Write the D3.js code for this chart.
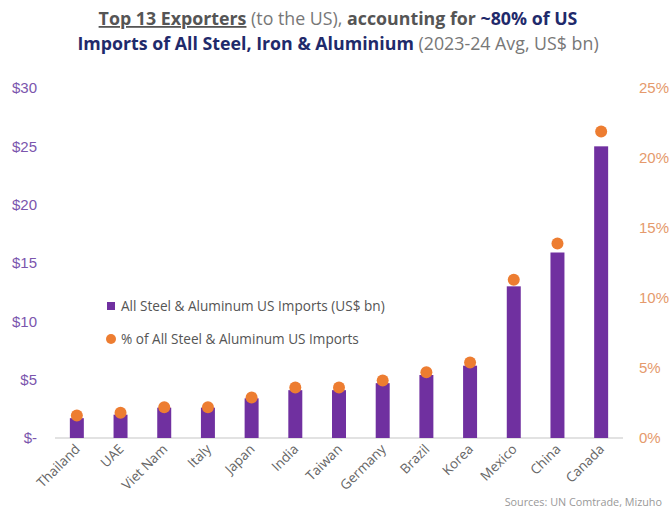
<!DOCTYPE html>
<html>
<head>
<meta charset="utf-8">
<script src="https://cdn.jsdelivr.net/npm/d3@7"></script>
<style>
  body { margin: 0; background: #fff; }
  svg { display: block; font-family: "Open Sans", "Noto Sans", sans-serif; }
</style>
</head>
<body>
<svg id="chart" width="672" height="513"></svg>
<script>
const countries = ["Thailand", "UAE", "Viet Nam", "Italy", "Japan", "India", "Taiwan", "Germany", "Brazil", "Korea", "Mexico", "China", "Canada"];
const importsBn = [1.7, 2.0, 2.6, 2.6, 3.4, 4.1, 4.1, 4.7, 5.4, 6.2, 13.0, 15.9, 25.0];
const sharePct = [1.6, 1.8, 2.2, 2.2, 2.9, 3.6, 3.6, 4.1, 4.7, 5.4, 11.3, 13.9, 21.9];
const leftTicks = [0, 5, 10, 15, 20, 25, 30];
const rightTicks = [0, 5, 10, 15, 20, 25];

const purple = '#7030a0';
const orange = '#ed7d31';

const svg = d3.select('#chart');
const m = { left: 55, right: 623, top: 88, bottom: 438 };

const x = d3.scaleBand().domain(countries).range([m.left, m.right]).paddingInner(0.68).paddingOuter(0.34);
const yL = d3.scaleLinear().domain([0, 30]).range([m.bottom, m.top]);
const yR = d3.scaleLinear().domain([0, 25]).range([m.bottom, m.top]);

// Title
const title = svg.append('text').attr('text-anchor', 'middle').style('font-size', '17.8px');
const l1 = title.append('tspan').attr('x', 338).attr('y', 25);
l1.append('tspan').text('Top 13 Exporters').attr('fill', '#555').attr('font-weight', 700).attr('text-decoration', 'underline');
l1.append('tspan').text(' (to the US), ').attr('fill', '#777');
l1.append('tspan').text('accounting for ').attr('fill', '#555').attr('font-weight', 700);
l1.append('tspan').text('~80% of  US').attr('fill', '#1f2a6b').attr('font-weight', 700);
const l2 = title.append('tspan').attr('x', 338).attr('y', 50);
l2.append('tspan').text('Imports of All Steel, Iron & Aluminium').attr('fill', '#1f2a6b').attr('font-weight', 700);
l2.append('tspan').text(' (2023-24  Avg, US$ bn)').attr('fill', '#777');

// Left axis
const axL = svg.append('g').attr('transform', `translate(37,0)`)
  .call(d3.axisLeft(yL).tickValues(leftTicks).tickSize(0).tickPadding(0)
    .tickFormat(d => d === 0 ? '$-' : '$' + d));
axL.select('.domain').remove();
axL.selectAll('text').attr('fill', '#7b55ad').style('font-size', '15px');

// Right axis
const axR = svg.append('g').attr('transform', `translate(639,0)`)
  .call(d3.axisRight(yR).tickValues(rightTicks).tickSize(0).tickPadding(0)
    .tickFormat(d => d + '%'));
axR.select('.domain').remove();
axR.selectAll('text').attr('fill', '#e59a6c').style('font-size', '15px');

// Baseline
svg.append('line').attr('x1', m.left).attr('x2', m.right).attr('y1', m.bottom).attr('y2', m.bottom)
  .attr('stroke', '#d9d9d9').attr('stroke-width', 1.5);

// Bars
svg.append('g').selectAll('rect').data(countries).join('rect')
  .attr('x', d => x(d))
  .attr('width', x.bandwidth())
  .attr('y', (d, i) => yL(importsBn[i]))
  .attr('height', (d, i) => m.bottom - yL(importsBn[i]))
  .attr('fill', purple);

// Dots
svg.append('g').selectAll('circle').data(countries).join('circle')
  .attr('cx', d => x(d) + x.bandwidth() / 2)
  .attr('cy', (d, i) => yR(sharePct[i]))
  .attr('r', 6)
  .attr('fill', orange);

// X labels
svg.append('g').selectAll('text').data(countries).join('text')
  .attr('transform', d => `translate(${x(d) + x.bandwidth() / 2 + 4},${m.bottom + 12}) rotate(-45)`)
  .attr('text-anchor', 'end')
  .attr('fill', '#666')
  .style('font-size', '13.5px')
  .text(d => d);

// Legend
const lg = svg.append('g');
lg.append('rect').attr('x', 107).attr('y', 302).attr('width', 8).attr('height', 8).attr('fill', purple);
lg.append('text').attr('x', 121).attr('y', 311).attr('fill', '#555').style('font-size', '13.6px')
  .text('All Steel & Aluminum US Imports (US$ bn)');
lg.append('circle').attr('cx', 111).attr('cy', 339).attr('r', 5).attr('fill', orange);
lg.append('text').attr('x', 121).attr('y', 344).attr('fill', '#555').style('font-size', '13.6px')
  .text('% of All Steel & Aluminum US Imports');

// Source
svg.append('text').attr('x', 662).attr('y', 506).attr('text-anchor', 'end')
  .attr('fill', '#999').style('font-size', '10.8px')
  .text('Sources: UN Comtrade,  Mizuho');
</script>
</body>
</html>
